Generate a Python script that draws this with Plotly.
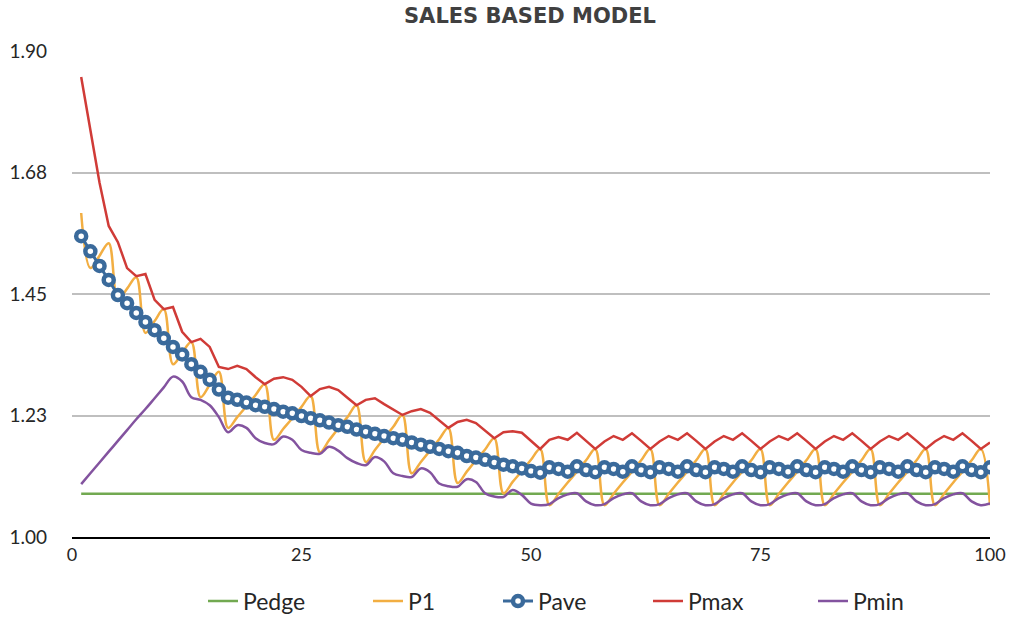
import plotly.graph_objects as go

x = list(range(1, 101))

pedge = [1.08] * 100

p1 = [1.600, 1.498, 1.521, 1.544, 1.439, 1.460, 1.481, 1.378, 1.400, 1.422,
      1.320, 1.341, 1.361, 1.259, 1.282, 1.306, 1.202, 1.222, 1.242, 1.263,
      1.283, 1.180, 1.200, 1.220, 1.241, 1.261, 1.157, 1.179, 1.201, 1.222,
      1.244, 1.139, 1.161, 1.183, 1.204, 1.226, 1.118, 1.139, 1.160, 1.181,
      1.202, 1.100, 1.121, 1.142, 1.162, 1.183, 1.081, 1.102, 1.122, 1.143,
      1.163, 1.059, 1.080, 1.101, 1.121, 1.142, 1.163, 1.059, 1.080, 1.101,
      1.121, 1.142, 1.163, 1.059, 1.080, 1.101, 1.121, 1.142, 1.163, 1.059,
      1.080, 1.101, 1.121, 1.142, 1.163, 1.059, 1.080, 1.101, 1.121, 1.142,
      1.163, 1.059, 1.080, 1.101, 1.121, 1.142, 1.163, 1.059, 1.080, 1.101,
      1.121, 1.142, 1.163, 1.059, 1.080, 1.101, 1.121, 1.142, 1.163, 1.059]

pave = [1.557, 1.529, 1.502, 1.476, 1.448, 1.433, 1.415, 1.398, 1.383, 1.368,
        1.352, 1.338, 1.320, 1.306, 1.291, 1.273, 1.258, 1.254, 1.249, 1.244,
        1.241, 1.237, 1.232, 1.229, 1.224, 1.220, 1.216, 1.212, 1.207, 1.204,
        1.199, 1.195, 1.191, 1.187, 1.183, 1.180, 1.175, 1.171, 1.167, 1.163,
        1.159, 1.156, 1.150, 1.147, 1.143, 1.138, 1.134, 1.131, 1.127, 1.122,
        1.119, 1.129, 1.126, 1.121, 1.131, 1.124, 1.120, 1.129, 1.126, 1.121,
        1.131, 1.124, 1.120, 1.129, 1.126, 1.121, 1.131, 1.124, 1.120, 1.129,
        1.126, 1.121, 1.131, 1.124, 1.120, 1.129, 1.126, 1.121, 1.131, 1.124,
        1.120, 1.129, 1.126, 1.121, 1.131, 1.124, 1.120, 1.129, 1.126, 1.121,
        1.131, 1.124, 1.120, 1.129, 1.126, 1.121, 1.131, 1.124, 1.120, 1.129]

pmax = [1.852, 1.755, 1.656, 1.576, 1.546, 1.498, 1.483, 1.487, 1.439, 1.422,
        1.426, 1.380, 1.361, 1.367, 1.352, 1.315, 1.311, 1.317, 1.311, 1.296,
        1.283, 1.293, 1.296, 1.291, 1.278, 1.261, 1.274, 1.278, 1.272, 1.258,
        1.244, 1.254, 1.257, 1.246, 1.236, 1.226, 1.233, 1.237, 1.230, 1.216,
        1.202, 1.213, 1.217, 1.211, 1.197, 1.183, 1.194, 1.196, 1.193, 1.178,
        1.163, 1.180, 1.185, 1.180, 1.193, 1.178, 1.163, 1.177, 1.187, 1.180,
        1.192, 1.178, 1.163, 1.177, 1.187, 1.180, 1.192, 1.178, 1.163, 1.177,
        1.187, 1.180, 1.192, 1.178, 1.163, 1.177, 1.187, 1.180, 1.192, 1.178,
        1.163, 1.177, 1.187, 1.180, 1.192, 1.178, 1.163, 1.177, 1.187, 1.180,
        1.192, 1.178, 1.163, 1.177, 1.187, 1.180, 1.192, 1.178, 1.163, 1.175]

pmin = [1.098, 1.118, 1.138, 1.158, 1.178, 1.198, 1.218, 1.237, 1.257, 1.277,
        1.297, 1.288, 1.259, 1.254, 1.244, 1.222, 1.194, 1.207, 1.202, 1.183,
        1.174, 1.172, 1.186, 1.180, 1.161, 1.156, 1.154, 1.167, 1.160, 1.146,
        1.137, 1.133, 1.148, 1.140, 1.118, 1.113, 1.111, 1.127, 1.120, 1.099,
        1.094, 1.093, 1.107, 1.102, 1.081, 1.075, 1.074, 1.087, 1.078, 1.062,
        1.059, 1.061, 1.072, 1.079, 1.081, 1.066, 1.059, 1.061, 1.072, 1.079,
        1.081, 1.066, 1.059, 1.061, 1.072, 1.079, 1.081, 1.066, 1.059, 1.061,
        1.072, 1.079, 1.081, 1.066, 1.059, 1.061, 1.072, 1.079, 1.081, 1.066,
        1.059, 1.061, 1.072, 1.079, 1.081, 1.066, 1.059, 1.061, 1.072, 1.079,
        1.081, 1.066, 1.059, 1.061, 1.072, 1.079, 1.081, 1.066, 1.059, 1.062]

y_tickvals = [1.0, 1.225, 1.45, 1.675, 1.9]
y_ticktext = ["1.00", "1.23", "1.45", "1.68", "1.90"]
x_tickvals = [0, 25, 50, 75, 100]

GREEN = "#72A951"
ORANGE = "#F2AE42"
BLUE = "#3A6A9B"
RED = "#D03B37"
PURPLE = "#83539F"
FONT = "Lato"

fig = go.Figure()
fig.add_trace(go.Scatter(x=x, y=pedge, name="Pedge", mode="lines", legendwidth=120,
                         line=dict(color=GREEN, width=2.5)))
fig.add_trace(go.Scatter(x=x, y=p1, name="P1", mode="lines", legendwidth=85,
                         line=dict(color=ORANGE, width=2.5, shape="spline", smoothing=1)))
fig.add_trace(go.Scatter(x=x, y=pave, name="Pave", mode="lines+markers", legendwidth=105,
                         line=dict(color=BLUE, width=3),
                         marker=dict(symbol="circle", size=10, color="white",
                                     line=dict(color=BLUE, width=4.5))))
fig.add_trace(go.Scatter(x=x, y=pmax, name="Pmax", mode="lines", legendwidth=120,
                         line=dict(color=RED, width=2.5)))
fig.add_trace(go.Scatter(x=x, y=pmin, name="Pmin", mode="lines", legendwidth=60,
                         line=dict(color=PURPLE, width=2.5, shape="spline", smoothing=1)))

fig.update_layout(
    width=1011, height=617,
    paper_bgcolor="white", plot_bgcolor="white",
    margin=dict(l=72, r=21, t=51, b=80, autoexpand=False),
    title=dict(text="<b>SALES BASED MODEL</b>", x=0.5242, xanchor="center",
               yref="container", y=0.987, yanchor="top", pad=dict(t=0, b=0),
               font=dict(family="DejaVu Sans", size=21, color="#404040")),
    font=dict(family=FONT, color="#262626"),
    showlegend=True,
    legend=dict(orientation="h", x=0.1427, xanchor="left", y=-0.132, yanchor="middle",
                font=dict(family=FONT, size=23, color="#262626"),
                traceorder="normal"),
    xaxis=dict(range=[0, 100], tickvals=x_tickvals, showgrid=False, zeroline=False,
               showline=True, linecolor="black", linewidth=2, ticks="", automargin=False,
               tickfont=dict(family=FONT, size=18, color="#262626")),
    yaxis=dict(range=[1.0, 1.9], tickvals=y_tickvals, ticktext=y_ticktext,
               showgrid=True, gridcolor="#BFBFBF", gridwidth=2, zeroline=False,
               showline=False, ticks="", ticklabelstandoff=24, automargin=False,
               tickfont=dict(family=FONT, size=19, color="#262626")),
)

fig.write_html("out.html", config={"displayModeBar": False},
               post_script="document.body.style.margin='0';document.body.style.overflow='hidden';")
